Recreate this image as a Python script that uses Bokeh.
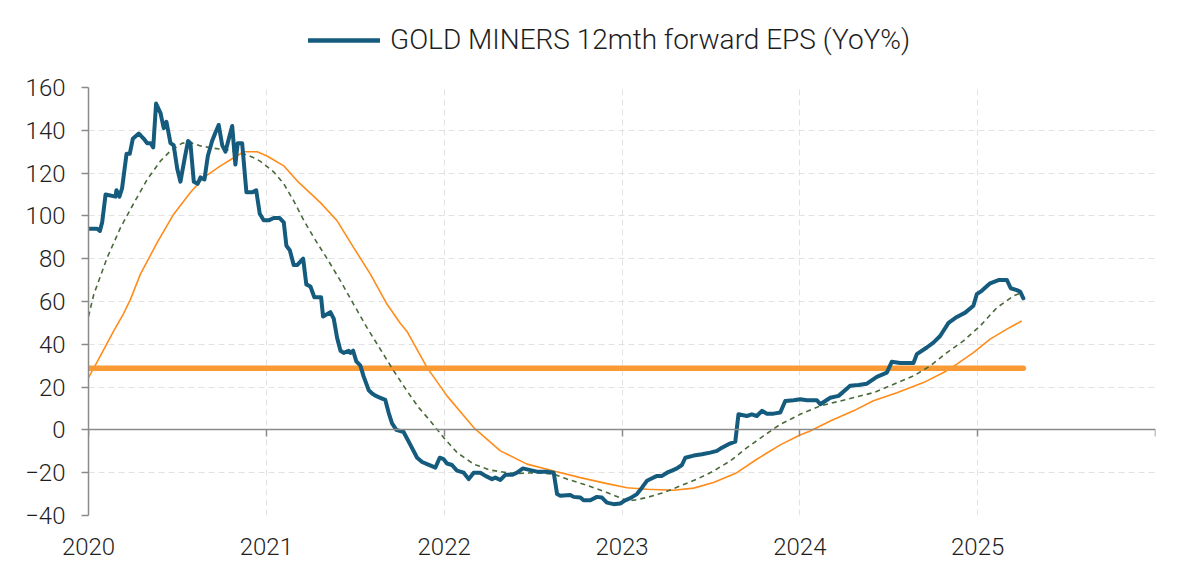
from bokeh.plotting import figure
from bokeh.models import Range1d, FixedTicker, LinearAxis, Legend, LegendItem
from bokeh.layouts import column
from bokeh.embed import file_html
from bokeh.resources import INLINE

# ---- data (decimal years) ----
eps_x = [2020.000, 2020.049, 2020.064, 2020.077, 2020.096, 2020.152, 2020.157, 2020.174, 2020.189,
         2020.214, 2020.232, 2020.249, 2020.283, 2020.311, 2020.330, 2020.349, 2020.364, 2020.380,
         2020.405, 2020.423, 2020.438, 2020.461, 2020.479, 2020.499, 2020.517, 2020.541, 2020.560,
         2020.573, 2020.592, 2020.614, 2020.630, 2020.652, 2020.671, 2020.695, 2020.714, 2020.732,
         2020.752, 2020.770, 2020.789, 2020.808, 2020.826, 2020.839, 2020.864, 2020.888, 2020.920,
         2020.943, 2020.963, 2020.985, 2021.016, 2021.042, 2021.075, 2021.098, 2021.113, 2021.132,
         2021.154, 2021.173, 2021.207, 2021.225, 2021.248, 2021.270, 2021.308, 2021.319, 2021.360,
         2021.379, 2021.398, 2021.417, 2021.435, 2021.463, 2021.473, 2021.488, 2021.506, 2021.529,
         2021.547, 2021.576, 2021.595, 2021.613, 2021.641, 2021.669, 2021.688, 2021.707, 2021.731,
         2021.772, 2021.810, 2021.848, 2021.876, 2021.904, 2021.951, 2021.975, 2021.997, 2022.016,
         2022.044, 2022.072, 2022.110, 2022.138, 2022.166, 2022.203, 2022.232, 2022.269, 2022.288,
         2022.316, 2022.344, 2022.382, 2022.410, 2022.443, 2022.485, 2022.522, 2022.578, 2022.616,
         2022.635, 2022.653, 2022.709, 2022.728, 2022.766, 2022.784, 2022.822, 2022.859, 2022.887,
         2022.915, 2022.953, 2022.990, 2023.018, 2023.047, 2023.084, 2023.112, 2023.140, 2023.169,
         2023.197, 2023.225, 2023.253, 2023.281, 2023.309, 2023.337, 2023.356, 2023.403, 2023.450,
         2023.496, 2023.534, 2023.562, 2023.599, 2023.637, 2023.655, 2023.702, 2023.730, 2023.758,
         2023.787, 2023.815, 2023.852, 2023.890, 2023.918, 2023.965, 2024.002, 2024.040, 2024.096,
         2024.115, 2024.171, 2024.218, 2024.283, 2024.330, 2024.377, 2024.433, 2024.489, 2024.517,
         2024.564, 2024.639, 2024.658, 2024.714, 2024.751, 2024.789, 2024.836, 2024.883, 2024.930,
         2024.976, 2024.995, 2025.023, 2025.070, 2025.117, 2025.164, 2025.186, 2025.220, 2025.239,
         2025.257]
eps_y = [94, 94, 93, 97, 110, 109, 112, 109, 113,
         129, 129, 136, 138.5, 136, 134, 134, 132, 152.5,
         148, 141, 144, 134, 133, 122, 116, 127, 135,
         134, 116, 115, 118, 117, 128, 135, 139, 142.5,
         133, 130, 136, 142, 124, 134, 134, 111, 111,
         112, 101, 98, 98, 99, 99, 97, 86, 84,
         77, 77, 80, 68, 67, 62, 62, 53, 55,
         52, 43, 37, 36, 37, 36, 37, 32, 30,
         25, 18.5, 17, 16, 15, 14, 8, 3, 0,
         -1, -7, -13, -15, -16, -17.6, -13, -13.7, -15.7,
         -16.4, -19, -20, -23, -20, -20, -21.5, -23, -22.3,
         -23.4, -21, -21, -20, -18, -18.8, -19.5, -19.5, -20,
         -30, -30.8, -30.4, -31.3, -31.6, -32.9, -32.9, -31.3, -31.6,
         -34, -34.7, -34.4, -32.9, -31.9, -30, -27, -23.8, -22.6,
         -21.5, -21.5, -20, -19, -18, -16.4, -13, -12, -11.4,
         -10.6, -9.8, -8.3, -6.7, -5.5, 7.3, 6.5, 7.3, 6.5,
         8.9, 7.6, 7.6, 8.1, 13.5, 13.9, 14.3, 13.9, 13.9,
         12, 15, 15.9, 20.6, 21, 21.6, 24.8, 26.8, 31.8,
         31.3, 31.3, 35.4, 38.5, 40.8, 43.9, 50, 52.8, 54.8,
         58, 63.4, 65, 68.5, 70, 70.1, 66.2, 65.3, 64.6,
         61.5]

ma_short_x = [2020.000, 2020.030, 2020.105, 2020.180, 2020.255, 2020.330, 2020.405, 2020.461, 2020.527,
              2020.573, 2020.630, 2020.704, 2020.780, 2020.854, 2020.929, 2020.967, 2021.042, 2021.098,
              2021.154, 2021.210, 2021.266, 2021.342, 2021.417, 2021.491, 2021.566, 2021.641, 2021.716,
              2021.791, 2021.857, 2021.922, 2021.997, 2022.073, 2022.166, 2022.260, 2022.391, 2022.522,
              2022.616, 2022.691, 2022.803, 2022.916, 2023.009, 2023.065, 2023.140, 2023.234, 2023.327,
              2023.422, 2023.515, 2023.609, 2023.703, 2023.796, 2023.890, 2024.002, 2024.115, 2024.265,
              2024.414, 2024.508, 2024.639, 2024.733, 2024.827, 2024.920, 2025.014, 2025.108, 2025.201,
              2025.248]
ma_short_y = [53, 63.4, 80.5, 94.5, 106, 117, 125.7, 130.4, 134,
              134.3, 132.7, 131.6, 130.8, 129.6, 127.2, 125.5, 120.5, 115,
              107, 98, 90, 80, 69.6, 58.7, 47.8, 37.7, 27.6,
              18.2, 10.4, 4.2, -3.6, -10.6, -16, -18.8, -20.4, -20,
              -20.7, -23, -25.9, -29.3, -32.4, -32.9, -31.6, -29.3, -26.2,
              -23, -19.2, -14.5, -8.3, -2.8, 2.6, 7.3, 11.2, 14.3,
              17.4, 20.6, 25.2, 29.9, 36.1, 41.6, 48.6, 57.1, 62.6,
              64.2]

ma_long_x = [2020.000, 2020.067, 2020.142, 2020.198, 2020.236, 2020.292, 2020.386, 2020.479, 2020.573,
             2020.648, 2020.742, 2020.817, 2020.873, 2020.948, 2021.004, 2021.098, 2021.173, 2021.304,
             2021.398, 2021.491, 2021.585, 2021.679, 2021.754, 2021.791, 2021.904, 2022.016, 2022.166,
             2022.316, 2022.466, 2022.616, 2022.766, 2022.916, 2023.028, 2023.140, 2023.290, 2023.403,
             2023.515, 2023.646, 2023.758, 2023.890, 2023.998, 2024.058, 2024.171, 2024.302, 2024.414,
             2024.546, 2024.695, 2024.808, 2024.883, 2024.976, 2025.070, 2025.164, 2025.248]
ma_long_y = [24.4, 34.6, 46.3, 54.5, 61, 72.8, 87.5, 100.8, 110.9,
             117.9, 123.4, 127.2, 130, 130, 128, 123.4, 116.4, 106.2,
             97.7, 85.2, 72.8, 58.7, 49.7, 46, 29.1, 15.9, 1.1,
             -9.8, -16, -19.2, -22.3, -25.1, -27, -27.7, -28.2, -27.2,
             -24.6, -20, -13.7, -7, -2.5, -0.5, 4.2, 8.9, 13.6,
             17.4, 22.1, 26.8, 30.7, 36.1, 42.4, 47.1, 50.9]

avg_value = 28.8
avg_x = [2020.000, 2025.257]

year_ticks = [2020, 2021, 2022, 2023, 2024, 2025, 2026]
year_labels = {2020: "2020", 2021: "2021", 2022: "2022", 2023: "2023",
               2024: "2024", 2025: "2025", 2026: ""}
y_ticks = [-40, -20, 0, 20, 40, 60, 80, 100, 120, 140, 160]
legend_label = "GOLD MINERS 12mth forward EPS (YoY%)"

FONT = "'Roboto Light', Roboto"
TXT = "#1e1e1e"
AX = "#8a8a8a"
BLUE = "#155b7e"

LEG_H = 66

# ---- legend strip (its frame is aligned with the main chart's frame) ----
lg = figure(width=1200, height=LEG_H, output_backend="svg", toolbar_location=None,
            x_range=Range1d(0, 1), y_range=Range1d(0, 1), x_axis_type=None, y_axis_type=None,
            min_border_left=0, min_border_right=0, min_border_top=0, min_border_bottom=0,
            background_fill_color="white", border_fill_color="white")
lg.outline_line_color = None
lg.xgrid.visible = False
lg.ygrid.visible = False
# legend proxy: same series, lying outside this strip's ranges so only its legend swatch shows
proxy = lg.line(x=eps_x, y=eps_y, line_color=BLUE, line_width=4.5, line_cap="round")
legend = Legend(items=[LegendItem(label=legend_label, renderers=[proxy])],
                orientation="horizontal", location=(220, 10),
                border_line_color=None, background_fill_alpha=0,
                glyph_width=72, glyph_height=20, label_standoff=10,
                label_text_font=FONT, label_text_font_size="28px", label_text_color=TXT,
                margin=0, padding=0)
lg.add_layout(legend, "center")

# ---- main chart ----
p = figure(width=1200, height=571 - LEG_H, output_backend="svg", toolbar_location=None,
           x_range=Range1d(2020, 2026), y_range=Range1d(-40, 160),
           min_border_left=88, min_border_right=45, min_border_top=87 - LEG_H, min_border_bottom=56,
           background_fill_color="white", border_fill_color="white")
p.outline_line_color = None

p.xgrid.ticker = FixedTicker(ticks=year_ticks)
p.ygrid.ticker = FixedTicker(ticks=y_ticks)
for g in (p.xgrid, p.ygrid):
    g.grid_line_color = "#e2e2e2"
    g.grid_line_dash = "6 4"
    g.grid_line_width = 1

xa = p.xaxis[0]
xa.ticker = FixedTicker(ticks=year_ticks)
xa.major_label_overrides = year_labels
xa.axis_line_color = None
xa.major_tick_line_color = None
xa.minor_tick_line_color = None
xa.major_tick_out = 0
xa.major_tick_in = 0
xa.major_label_standoff = 22
xa.major_label_text_font = FONT
xa.major_label_text_font_size = "24px"
xa.major_label_text_color = TXT

za = LinearAxis(fixed_location=0, ticker=FixedTicker(ticks=year_ticks))
za.major_label_text_font_size = "0px"
za.major_label_text_alpha = 0
za.axis_line_color = AX
za.axis_line_width = 1.5
za.major_tick_line_color = AX
za.major_tick_line_width = 1.5
za.major_tick_out = 7
za.major_tick_in = 0
za.minor_tick_line_color = None
p.add_layout(za, "below")

ya = p.yaxis[0]
ya.ticker = FixedTicker(ticks=y_ticks)
ya.axis_line_color = AX
ya.axis_line_width = 1.5
ya.major_tick_line_color = AX
ya.major_tick_line_width = 1.5
ya.major_tick_out = 7
ya.major_tick_in = 0
ya.minor_tick_line_color = None
ya.major_label_standoff = 16
ya.major_label_text_font = FONT
ya.major_label_text_font_size = "24px"
ya.major_label_text_color = TXT

p.line(ma_long_x, ma_long_y, line_color="#ff8c1a", line_width=1.6)
p.line(avg_x, [avg_value, avg_value], line_color="#f99a35", line_width=5.5, line_cap="round")
p.line(ma_short_x, ma_short_y, line_color="#4b6a3a", line_width=1.6, line_dash="5 4")
p.line(eps_x, eps_y, line_color=BLUE, line_width=4, line_join="round", line_cap="round")

layout = column(lg, p, spacing=0)
open("out.html", "w").write(file_html(layout, INLINE))
